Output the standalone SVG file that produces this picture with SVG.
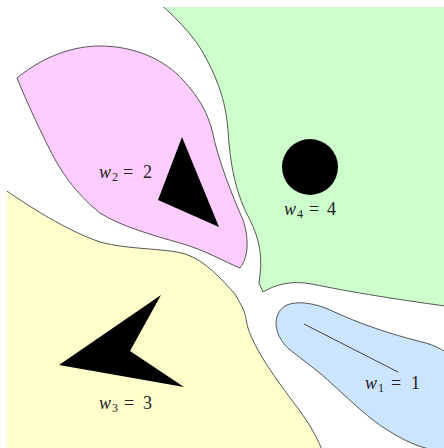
<svg xmlns="http://www.w3.org/2000/svg" width="444" height="448" viewBox="0 0 444 448">
<defs>
<clipPath id="box"><rect x="7" y="7" width="437" height="441"/></clipPath>
<style>
.reg{stroke:#555;stroke-width:1}
.lbl{font-family:"Liberation Serif","DejaVu Serif",serif;font-size:18px;fill:#222}
.it{font-style:italic}
.sub{font-size:12px}
</style>
</defs>
<rect width="444" height="448" fill="#fff"/>
<g clip-path="url(#box)">
<g id="region4">
<path class="reg" fill="#ccffcc" d="M152,-3 C170,12 195,35 207,60 C220,85 226,105 228,130 C230,165 236,195 250,220 C260,240 263,258 259,283 L263,292 C275,285 290,280 312,284 C350,292 400,300 460,308 L460,-10 L150,-10 Z"/>
</g>
<g id="region2">
<path class="reg" fill="#ffccff" d="M17,78 C45,55 75,46 100,46 C135,46 165,60 183,80 C200,98 208,115 212,130 C218,160 232,195 243,220 C248,235 250,255 240,268 C225,262 205,250 180,243 C155,236 120,226 100,213 C75,193 60,170 50,150 C40,130 28,105 17,78 Z"/>
</g>
<g id="region3">
<path class="reg" fill="#ffffcc" d="M-5,183 C20,200 60,228 100,242 C130,250 165,248 185,254 C205,260 222,280 235,294 L240,303 C246,312 246,322 248,328 C255,350 275,378 297,407 C308,422 318,437 325,458 L-5,458 Z"/>
</g>
<g id="region1">
<path class="reg" fill="#cce5ff" d="M460,362 C448,352 435,345 422,342 C390,334 360,324 330,310 C315,303 295,300 285,306 C272,314 273,335 289,349 C305,362 320,372 332,384 C350,400 370,420 389,431 C400,438 412,444 422,447 L460,458 Z"/>
</g>
</g>
<g id="obj4"><circle cx="310" cy="167" r="28" fill="#000"/></g>
<g id="obj2"><polygon points="182,137 158,200 219,227" fill="#000"/></g>
<g id="obj3"><polygon points="161,295 130,351 184,387 59,365" fill="#000"/></g>
<g id="obj1"><line x1="304" y1="324" x2="398" y2="372" stroke="#444" stroke-width="1"/></g>
<g id="labels" class="lbl">
<text y="389"><tspan x="365" class="it">w</tspan><tspan x="378" dy="3" class="sub">1</tspan><tspan x="391" dy="-3">=</tspan><tspan x="411">1</tspan></text>
<text y="178"><tspan x="99" class="it">w</tspan><tspan x="112" dy="3" class="sub">2</tspan><tspan x="123" dy="-3">=</tspan><tspan x="143">2</tspan></text>
<text y="409"><tspan x="99" class="it">w</tspan><tspan x="112" dy="3" class="sub">3</tspan><tspan x="124" dy="-3">=</tspan><tspan x="143">3</tspan></text>
<text y="215"><tspan x="284" class="it">w</tspan><tspan x="297" dy="3" class="sub">4</tspan><tspan x="309" dy="-3">=</tspan><tspan x="327">4</tspan></text>
</g>
</svg>
